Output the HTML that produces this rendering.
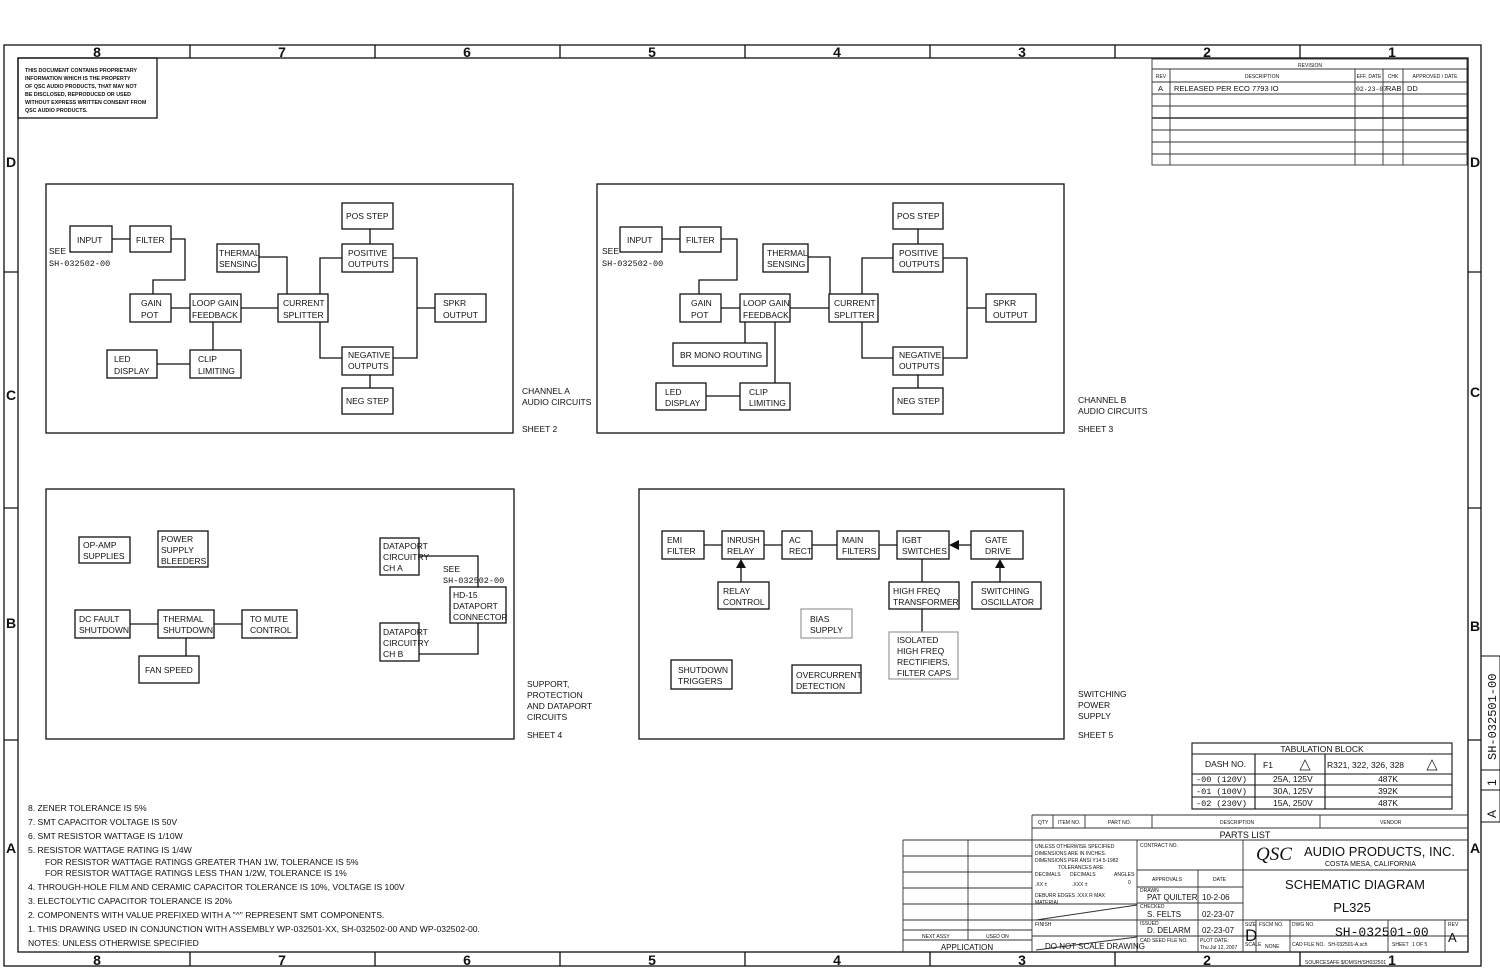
<!DOCTYPE html>
<html><head><meta charset="utf-8"><style>
html,body{margin:0;padding:0;background:#fff;}
svg{display:block;}
text{font-family:"Liberation Sans",sans-serif;fill:#111;}
.b{font-size:8.5px;}
.s{font-size:5px;}
.m{font-family:"Liberation Mono",monospace;font-size:8.5px;}
.z{font-size:14px;font-weight:bold;}
</style></head><body>
<svg width="1500" height="971" viewBox="0 0 1500 971" xmlns="http://www.w3.org/2000/svg">
<rect width="1500" height="971" fill="#fff"/>
<g fill="none" stroke="#111" stroke-width="1.3">
<rect x="4" y="45" width="1477" height="921"/>
<rect x="18" y="58" width="1450" height="894"/>
<path d="M190 45V58M375 45V58M560 45V58M745 45V58M930 45V58M1115 45V58M1300 45V58"/>
<path d="M190 952V966M375 952V966M560 952V966M745 952V966M930 952V966M1115 952V966M1300 952V966"/>
<path d="M4 272H18M4 508H18M4 740H18M1468 272H1481M1468 508H1481M1468 740H1481"/>
<rect x="18" y="58" width="139" height="60"/>
<rect x="46" y="184" width="467" height="249"/>
<rect x="597" y="184" width="467" height="249"/>
<rect x="46" y="489" width="468" height="250"/>
<rect x="639" y="489" width="425" height="250"/>
<rect x="70" y="226" width="42" height="26"/>
<rect x="130" y="226" width="41" height="26"/>
<rect x="217" y="244" width="42" height="28"/>
<rect x="342" y="203" width="51" height="26"/>
<rect x="342" y="244" width="51" height="28"/>
<rect x="130" y="294" width="41" height="28"/>
<rect x="190" y="294" width="51" height="28"/>
<rect x="278" y="294" width="50" height="28"/>
<rect x="435" y="294" width="51" height="28"/>
<rect x="107" y="350" width="50" height="28"/>
<rect x="190" y="350" width="51" height="28"/>
<rect x="342" y="347" width="51" height="28"/>
<rect x="342" y="388" width="51" height="26"/>
<path d="M112 239H130M171 239H185V280H153V294M259 257H287V294M171 308H190M241 308H278M213 322V350M157 364H190M370 229V244M320 294V258H342M320 322V358H342M393 258H417V358H393M417 308H435M370 375V388"/>
<rect x="620" y="227" width="42" height="25"/>
<rect x="680" y="227" width="41" height="25"/>
<rect x="763" y="244" width="45" height="28"/>
<rect x="893" y="203" width="50" height="26"/>
<rect x="893" y="244" width="50" height="28"/>
<rect x="680" y="294" width="41" height="28"/>
<rect x="740" y="294" width="50" height="28"/>
<rect x="829" y="294" width="49" height="28"/>
<rect x="986" y="294" width="50" height="28"/>
<rect x="673" y="343" width="94" height="23"/>
<rect x="656" y="383" width="50" height="27"/>
<rect x="740" y="383" width="50" height="27"/>
<rect x="893" y="347" width="50" height="28"/>
<rect x="893" y="388" width="50" height="26"/>
<path d="M662 239H680M721 239H737V280H699V294M808 257H830V294M721 308H740M790 308H829M745 322V343M775 322V383M706 396H740M918 229V244M862 294V258H893M862 322V358H893M943 258H967V358H943M967 308H986M918 375V388"/>
<rect x="79" y="537" width="51" height="26"/>
<rect x="158" y="531" width="50" height="36"/>
<rect x="75" y="610" width="55" height="28"/>
<rect x="158" y="610" width="56" height="28"/>
<rect x="242" y="610" width="55" height="28"/>
<rect x="139" y="656" width="60" height="27"/>
<rect x="380" y="538" width="39" height="37"/>
<rect x="450" y="587" width="56" height="36"/>
<rect x="380" y="623" width="39" height="38"/>
<path d="M130 624H158M214 624H242M186 638V656M419 556H478V587M478 623V654H419"/>
<rect x="662" y="531" width="42" height="28"/>
<rect x="722" y="531" width="42" height="28"/>
<rect x="782" y="531" width="30" height="28"/>
<rect x="837" y="531" width="42" height="28"/>
<rect x="897" y="531" width="52" height="28"/>
<rect x="971" y="531" width="52" height="28"/>
<rect x="718" y="582" width="51" height="27"/>
<rect x="889" y="582" width="70" height="27"/>
<rect x="972" y="582" width="69" height="27"/>
<rect x="671" y="660" width="61" height="29"/>
<rect x="792" y="665" width="69" height="28"/>
<path d="M704 545H722M764 545H782M812 545H837M879 545H897M959 545H971M741 582V566M1000 582V566M922 559V582M922 609V632"/>
</g>
<g fill="none" stroke="#999" stroke-width="1.2">
<rect x="801" y="609" width="51" height="29"/>
<rect x="889" y="632" width="69" height="47"/>
</g>
<g fill="#111">
<polygon points="741,559 736,568 746,568"/>
<polygon points="949,545 959,540 959,550"/>
<polygon points="1000,559 995,568 1005,568"/>
</g>

<g class="z" text-anchor="middle">
<text x="97" y="57">8</text><text x="282" y="57">7</text><text x="467" y="57">6</text><text x="652" y="57">5</text><text x="837" y="57">4</text><text x="1022" y="57">3</text><text x="1207" y="57">2</text><text x="1392" y="57">1</text>
<text x="97" y="965">8</text><text x="282" y="965">7</text><text x="467" y="965">6</text><text x="652" y="965">5</text><text x="837" y="965">4</text><text x="1022" y="965">3</text><text x="1207" y="965">2</text><text x="1392" y="965">1</text>
<text x="11" y="167">D</text><text x="11" y="400">C</text><text x="11" y="628">B</text><text x="11" y="853">A</text>
<text x="1475" y="167">D</text><text x="1475" y="397">C</text><text x="1475" y="631">B</text><text x="1475" y="853">A</text>
</g>

<g style="font-size:5.3px;font-weight:bold">
<text x="25" y="72">THIS DOCUMENT CONTAINS PROPRIETARY</text>
<text x="25" y="80">INFORMATION WHICH IS THE PROPERTY</text>
<text x="25" y="88">OF QSC AUDIO PRODUCTS, THAT MAY NOT</text>
<text x="25" y="96">BE DISCLOSED, REPRODUCED OR USED</text>
<text x="25" y="104">WITHOUT EXPRESS WRITTEN CONSENT FROM</text>
<text x="25" y="112">QSC AUDIO PRODUCTS.</text>
</g>

<g class="b">
<text x="77" y="243">INPUT</text>
<text x="136" y="243">FILTER</text>
<text x="49" y="254">SEE</text><text x="49" y="266" class="m">SH-032502-00</text>
<text x="219" y="256">THERMAL</text><text x="219" y="267">SENSING</text>
<text x="346" y="219">POS STEP</text>
<text x="348" y="256">POSITIVE</text><text x="348" y="267">OUTPUTS</text>
<text x="141" y="306">GAIN</text><text x="141" y="318">POT</text>
<text x="192" y="306">LOOP GAIN</text><text x="192" y="318">FEEDBACK</text>
<text x="283" y="306">CURRENT</text><text x="283" y="318">SPLITTER</text>
<text x="443" y="306">SPKR</text><text x="443" y="318">OUTPUT</text>
<text x="114" y="362">LED</text><text x="114" y="374">DISPLAY</text>
<text x="198" y="362">CLIP</text><text x="198" y="374">LIMITING</text>
<text x="348" y="358">NEGATIVE</text><text x="348" y="369">OUTPUTS</text>
<text x="346" y="404">NEG STEP</text>
<text x="522" y="394">CHANNEL A</text><text x="522" y="405">AUDIO CIRCUITS</text><text x="522" y="432">SHEET 2</text>
</g>

<g class="b">
<text x="627" y="243">INPUT</text>
<text x="686" y="243">FILTER</text>
<text x="602" y="254">SEE</text><text x="602" y="266" class="m">SH-032502-00</text>
<text x="767" y="256">THERMAL</text><text x="767" y="267">SENSING</text>
<text x="897" y="219">POS STEP</text>
<text x="899" y="256">POSITIVE</text><text x="899" y="267">OUTPUTS</text>
<text x="691" y="306">GAIN</text><text x="691" y="318">POT</text>
<text x="743" y="306">LOOP GAIN</text><text x="743" y="318">FEEDBACK</text>
<text x="834" y="306">CURRENT</text><text x="834" y="318">SPLITTER</text>
<text x="993" y="306">SPKR</text><text x="993" y="318">OUTPUT</text>
<text x="680" y="358">BR MONO ROUTING</text>
<text x="665" y="395">LED</text><text x="665" y="406">DISPLAY</text>
<text x="749" y="395">CLIP</text><text x="749" y="406">LIMITING</text>
<text x="899" y="358">NEGATIVE</text><text x="899" y="369">OUTPUTS</text>
<text x="897" y="404">NEG STEP</text>
<text x="1078" y="403">CHANNEL B</text><text x="1078" y="414">AUDIO CIRCUITS</text><text x="1078" y="432">SHEET 3</text>
</g>

<g class="b">
<text x="83" y="548">OP-AMP</text><text x="83" y="559">SUPPLIES</text>
<text x="161" y="542">POWER</text><text x="161" y="553">SUPPLY</text><text x="161" y="564">BLEEDERS</text>
<text x="79" y="622">DC FAULT</text><text x="79" y="633">SHUTDOWN</text>
<text x="163" y="622">THERMAL</text><text x="163" y="633">SHUTDOWN</text>
<text x="250" y="622">TO MUTE</text><text x="250" y="633">CONTROL</text>
<text x="145" y="673">FAN SPEED</text>
<text x="383" y="549">DATAPORT</text><text x="383" y="560">CIRCUITRY</text><text x="383" y="571">CH A</text>
<text x="443" y="572">SEE</text><text x="443" y="583" class="m">SH-032502-00</text>
<text x="453" y="598">HD-15</text><text x="453" y="609">DATAPORT</text><text x="453" y="620">CONNECTOR</text>
<text x="383" y="635">DATAPORT</text><text x="383" y="646">CIRCUITRY</text><text x="383" y="657">CH B</text>
<text x="527" y="687">SUPPORT,</text><text x="527" y="698">PROTECTION</text><text x="527" y="709">AND DATAPORT</text><text x="527" y="720">CIRCUITS</text><text x="527" y="738">SHEET 4</text>
</g>

<g class="b">
<text x="667" y="543">EMI</text><text x="667" y="554">FILTER</text>
<text x="727" y="543">INRUSH</text><text x="727" y="554">RELAY</text>
<text x="789" y="543">AC</text><text x="789" y="554">RECT</text>
<text x="842" y="543">MAIN</text><text x="842" y="554">FILTERS</text>
<text x="902" y="543">IGBT</text><text x="902" y="554">SWITCHES</text>
<text x="985" y="543">GATE</text><text x="985" y="554">DRIVE</text>
<text x="723" y="594">RELAY</text><text x="723" y="605">CONTROL</text>
<text x="893" y="594">HIGH FREQ</text><text x="893" y="605">TRANSFORMER</text>
<text x="981" y="594">SWITCHING</text><text x="981" y="605">OSCILLATOR</text>
<text x="810" y="622">BIAS</text><text x="810" y="633">SUPPLY</text>
<text x="897" y="643">ISOLATED</text><text x="897" y="654">HIGH FREQ</text><text x="897" y="665">RECTIFIERS,</text><text x="897" y="676">FILTER CAPS</text>
<text x="678" y="673">SHUTDOWN</text><text x="678" y="684">TRIGGERS</text>
<text x="796" y="678">OVERCURRENT</text><text x="796" y="689">DETECTION</text>
<text x="1078" y="697">SWITCHING</text><text x="1078" y="708">POWER</text><text x="1078" y="719">SUPPLY</text><text x="1078" y="738">SHEET 5</text>
</g>

<g style="font-size:8.6px">
<text x="28" y="811">8. ZENER TOLERANCE IS 5%</text>
<text x="28" y="825">7. SMT CAPACITOR VOLTAGE IS 50V</text>
<text x="28" y="839">6. SMT RESISTOR WATTAGE IS 1/10W</text>
<text x="28" y="853">5. RESISTOR WATTAGE RATING IS 1/4W</text>
<text x="45" y="865">FOR RESISTOR WATTAGE RATINGS GREATER THAN 1W, TOLERANCE IS 5%</text>
<text x="45" y="876">FOR RESISTOR WATTAGE RATINGS LESS THAN 1/2W, TOLERANCE IS 1%</text>
<text x="28" y="890">4. THROUGH-HOLE FILM AND CERAMIC CAPACITOR TOLERANCE IS 10%, VOLTAGE IS 100V</text>
<text x="28" y="904">3. ELECTOLYTIC CAPACITOR TOLERANCE IS 20%</text>
<text x="28" y="918">2. COMPONENTS WITH VALUE PREFIXED WITH A "^" REPRESENT SMT COMPONENTS.</text>
<text x="28" y="932">1. THIS DRAWING USED IN CONJUNCTION WITH ASSEMBLY WP-032501-XX, SH-032502-00 AND WP-032502-00.</text>
<text x="28" y="946">NOTES: UNLESS OTHERWISE SPECIFIED</text>
</g>

<g fill="none" stroke="#333" stroke-width="0.9">
<rect x="1152" y="59" width="315" height="106"/>
<path d="M1152 69H1467M1152 82H1467M1152 94H1467M1152 106H1467M1152 130H1467M1152 142H1467M1152 154H1467"/>
<path d="M1152 118H1467" stroke-width="1.5"/>
<path d="M1170 69V165M1355 69V165M1383 69V165M1403 69V165"/>
</g>
<g class="s" text-anchor="middle">
<text x="1310" y="67">REVISION</text>
<text x="1161" y="78">REV</text><text x="1262" y="78">DESCRIPTION</text><text x="1369" y="78">EFF. DATE</text><text x="1393" y="78">CHK</text><text x="1435" y="78">APPROVED / DATE</text>
</g>
<g style="font-size:7.5px">
<text x="1158" y="91">A</text><text x="1174" y="91">RELEASED PER ECO 7793 IO</text><text x="1356" y="91" style="font-size:6.5px;font-family:'Liberation Mono',monospace">02-23-07</text><text x="1386" y="91">RAB</text><text x="1407" y="91">DD</text>
</g>

<g fill="none" stroke="#111" stroke-width="1.1">
<rect x="1192" y="743" width="260" height="66"/>
<path d="M1192 754H1452M1192 774H1452M1192 785H1452M1192 797H1452M1255 754V809M1325 754V809"/>
<path d="M1300 770L1305 760L1310 770ZM1427 770L1432 760L1437 770Z" stroke-width="0.7"/>
</g>
<g style="font-size:8.5px">
<text x="1322" y="752" text-anchor="middle">TABULATION BLOCK</text>
<text x="1205" y="767">DASH NO.</text><text x="1263" y="768">F1</text><text x="1327" y="768">R321, 322, 326, 328</text>
<text x="1196" y="782" class="m">-00 (120V)</text><text x="1273" y="782">25A, 125V</text><text x="1388" y="782" text-anchor="middle">487K</text>
<text x="1196" y="794" class="m">-01 (100V)</text><text x="1273" y="794">30A, 125V</text><text x="1388" y="794" text-anchor="middle">392K</text>
<text x="1196" y="806" class="m">-02 (230V)</text><text x="1273" y="806">15A, 250V</text><text x="1388" y="806" text-anchor="middle">487K</text>
</g>

<g fill="none" stroke="#333" stroke-width="0.9">
<path d="M1032 815H1468M1032 828H1468M1032 840H1468M1032 815V952"/>
<path d="M1053 815V828M1085 815V828M1152 815V828M1320 815V828"/>
<path d="M1137 840V952M1243 840V952M1198 870V952M1137 870H1243M1137 887H1243M1137 903H1243M1137 920H1468M1137 936H1468M1243 870H1468"/>
<path d="M1032 904H1137M1032 920H1137M1032 936H1137M1036 920L1137 905M1036 950L1137 937"/>
<path d="M1256 920V952M1290 936V952M1388 920V952M1445 920V952M1290 920V936" />
<path d="M903 840H1032M903 856H1032M903 872H1032M903 888H1032M903 904H1032M903 920H1032M903 930H1032M903 940H1032M968 840V940M903 840V952"/>
</g>
<g class="s">
<text x="1038" y="824">QTY</text><text x="1058" y="824">ITEM NO.</text><text x="1108" y="824">PART NO.</text><text x="1220" y="824">DESCRIPTION</text><text x="1380" y="824">VENDOR</text>
<text x="1035" y="848">UNLESS OTHERWISE SPECIFIED</text><text x="1035" y="855">DIMENSIONS ARE IN INCHES.</text><text x="1035" y="862">DIMENSIONS PER ANSI Y14.5-1982</text><text x="1058" y="869">TOLERANCES ARE:</text>
<text x="1035" y="876">DECIMALS</text><text x="1070" y="876">DECIMALS</text><text x="1114" y="876">ANGLES</text>
<text x="1035" y="886">.XX ±</text><text x="1072" y="886">.XXX ±</text><text x="1128" y="884">0</text>
<text x="1035" y="897">DEBURR EDGES .XXX R MAX</text><text x="1035" y="904">MATERIAL</text><text x="1035" y="926">FINISH</text>
<text x="1140" y="847">CONTRACT NO.</text><text x="1152" y="881">APPROVALS</text><text x="1213" y="881">DATE</text>
<text x="1140" y="892">DRAWN</text><text x="1140" y="908">CHECKED</text><text x="1140" y="925">ISSUED</text><text x="1140" y="942">CAD SEED FILE NO.</text><text x="1200" y="942">PLOT DATE:</text><text x="1200" y="949">Thu Jul 12, 2007</text>
<text x="1245" y="926">SIZE</text><text x="1259" y="926">FSCM NO.</text><text x="1292" y="926">DWG NO.</text><text x="1448" y="926">REV</text>
<text x="1245" y="946">SCALE</text><text x="1265" y="948">NONE</text><text x="1292" y="946">CAD FILE NO.</text><text x="1328" y="946">SH-032501-A.sch</text><text x="1392" y="946">SHEET</text><text x="1412" y="946">1 OF 5</text>
<text x="922" y="938">NEXT ASSY</text><text x="986" y="938">USED ON</text>
<text x="1305" y="964">SOURCESAFE $/DM/SH/SH032501</text>
</g>
<g style="font-size:8px">
<text x="1245" y="838" text-anchor="middle" style="font-size:9px">PARTS LIST</text>
<text x="1147" y="900">PAT QUILTER</text><text x="1202" y="900">10-2-06</text>
<text x="1147" y="917">S. FELTS</text><text x="1202" y="917">02-23-07</text>
<text x="1147" y="933">D. DELARM</text><text x="1202" y="933">02-23-07</text>
<text x="1045" y="949">DO NOT SCALE DRAWING</text>
<text x="967" y="950" text-anchor="middle">APPLICATION</text>
</g>
<text x="1256" y="860" style="font-size:19px;font-style:italic;font-family:'Liberation Serif',serif">QSC</text>
<text x="1304" y="856" style="font-size:13px">AUDIO PRODUCTS, INC.</text>
<text x="1325" y="866" style="font-size:7px">COSTA MESA, CALIFORNIA</text>
<text x="1355" y="889" text-anchor="middle" style="font-size:13px">SCHEMATIC DIAGRAM</text>
<text x="1352" y="912" text-anchor="middle" style="font-size:13px">PL325</text>
<text x="1245" y="941" style="font-size:17px">D</text>
<text x="1335" y="936" style="font-size:13px;font-family:'Liberation Mono',monospace">SH-032501-00</text>
<text x="1448" y="942" style="font-size:13px">A</text>

<g fill="none" stroke="#111" stroke-width="1"><rect x="1481" y="656" width="19" height="166"/><path d="M1481 770H1500M1481 790H1500"/></g>
<g transform="translate(1496,760) rotate(-90)"><text x="0" y="0" style="font-size:12px;font-family:'Liberation Mono',monospace">SH-032501-00</text></g>
<g transform="translate(1496,786) rotate(-90)"><text x="0" y="0" style="font-size:12px">1</text></g>
<g transform="translate(1496,818) rotate(-90)"><text x="0" y="0" style="font-size:12px">A</text></g>
</svg>
</body></html>
